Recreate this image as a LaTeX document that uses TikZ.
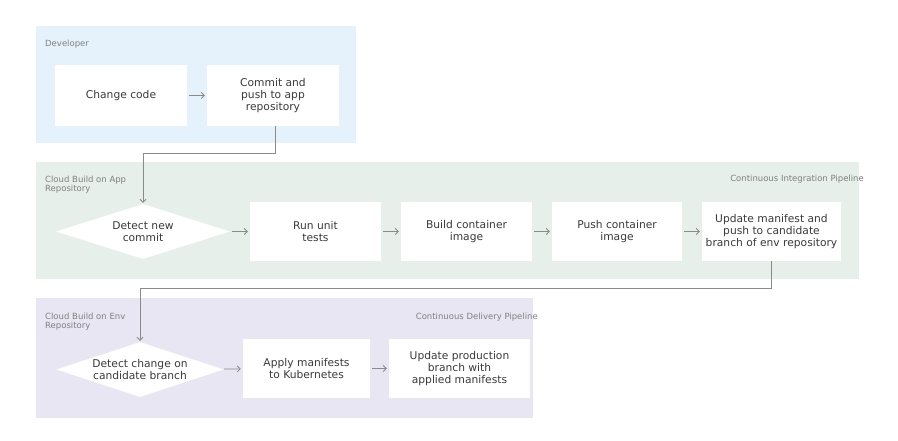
\documentclass[tikz,border=0pt]{standalone}
\usepackage{fontspec}
\setmainfont{DejaVu Sans}
\usetikzlibrary{shapes.geometric,arrows.meta}
\definecolor{devbg}{HTML}{E5F2FC}
\definecolor{cibg}{HTML}{E6EFEA}
\definecolor{cdbg}{HTML}{E8E6F3}
\definecolor{boxtext}{HTML}{3A3A3A}
\definecolor{labeltext}{HTML}{808080}
\definecolor{linecol}{HTML}{8A8A8A}
\tikzset{
  panel/.style={fill=#1, draw=none},
  stepbox/.style={rectangle, fill=white, draw=none, align=center, text=boxtext,
    font=\fontsize{10.7}{12.3}\selectfont, inner sep=0pt},
  decide/.style={diamond, fill=white, draw=none, align=center, text=boxtext,
    font=\fontsize{10.7}{12.3}\selectfont, inner sep=0pt, aspect=3},
  plabel/.style={text=labeltext, font=\fontsize{8.5}{9.5}\selectfont, inner sep=0pt, align=left},
  flow/.style={draw=linecol, line width=0.8pt, -{Straight Barb[length=3pt,width=6pt]}, shorten >=2pt, shorten <=2pt},
  elbow/.style={draw=linecol, line width=0.9pt, -{Straight Barb[length=3pt,width=6pt]}, shorten >=1pt}
}
\begin{document}
\begin{tikzpicture}[x=1pt,y=-1pt]
\useasboundingbox (0,0) rectangle (898,440);
\fill[white] (0,0) rectangle (898,440);
% panels
\node[panel=devbg, minimum width=320pt, minimum height=117pt, anchor=north west] (devp) at (36,26) {};
\node[panel=cibg, minimum width=823pt, minimum height=117pt, anchor=north west] (cip) at (36,162) {};
\node[panel=cdbg, minimum width=497pt, minimum height=120pt, anchor=north west] (cdp) at (36,298) {};
% panel labels
\node[plabel, anchor=west] (ldev) at (45,44) {Developer};
\node[plabel, anchor=west] (lapp) at (45,184.5) {Cloud Build on App\\Repository};
\node[plabel, anchor=east] (lci) at (864,179) {Continuous Integration Pipeline};
\node[plabel, anchor=west] (lenv) at (45,321.5) {Cloud Build on Env\\Repository};
\node[plabel, anchor=east] (lcd) at (538,317) {Continuous Delivery Pipeline};
% developer
\node[stepbox, minimum width=132pt, minimum height=61pt] (change) at (121,95.5) {Change code};
\node[stepbox, minimum width=132pt, minimum height=61pt] (commit) at (273,95.5) {Commit and\\push to app\\repository};
% CI
\node[decide, minimum width=174pt, minimum height=55pt] (d1) at (143,231.5) {Detect new\\commit};
\node[stepbox, minimum width=131pt, minimum height=59pt] (unit) at (315.5,231.5) {Run unit\\tests};
\node[stepbox, minimum width=131pt, minimum height=59pt] (build) at (466.5,231.5) {Build container\\image};
\node[stepbox, minimum width=130pt, minimum height=59pt] (push) at (617,231.5) {Push container\\image};
\node[stepbox, minimum width=139pt, minimum height=59pt] (update) at (771.5,231.5) {Update manifest and\\push to candidate\\branch of env repository};
% CD
\node[decide, minimum width=167pt, minimum height=55pt] (d2) at (140,369.5) {Detect change on\\candidate branch};
\node[stepbox, minimum width=127pt, minimum height=59pt] (apply) at (306.5,368.5) {Apply manifests\\to Kubernetes};
\node[stepbox, minimum width=141pt, minimum height=59pt] (prod) at (459.5,368.5) {Update production\\branch with\\applied manifests};
% connectors
\draw[flow] (change) -- (commit);
\coordinate (c1) at (275,153);
\draw[elbow] (commit.south -| c1) -- (c1) -| (d1.north);
\draw[flow] (d1) -- (unit);
\draw[flow] (unit) -- (build);
\draw[flow] (build) -- (push);
\draw[flow] (push) -- (update);
\coordinate (c2) at (771.5,288);
\draw[elbow] (update.south) -- (c2) -| (d2.north);
\draw[flow] (d2) -- (apply);
\draw[flow] (apply) -- (prod);
\end{tikzpicture}
\end{document}
